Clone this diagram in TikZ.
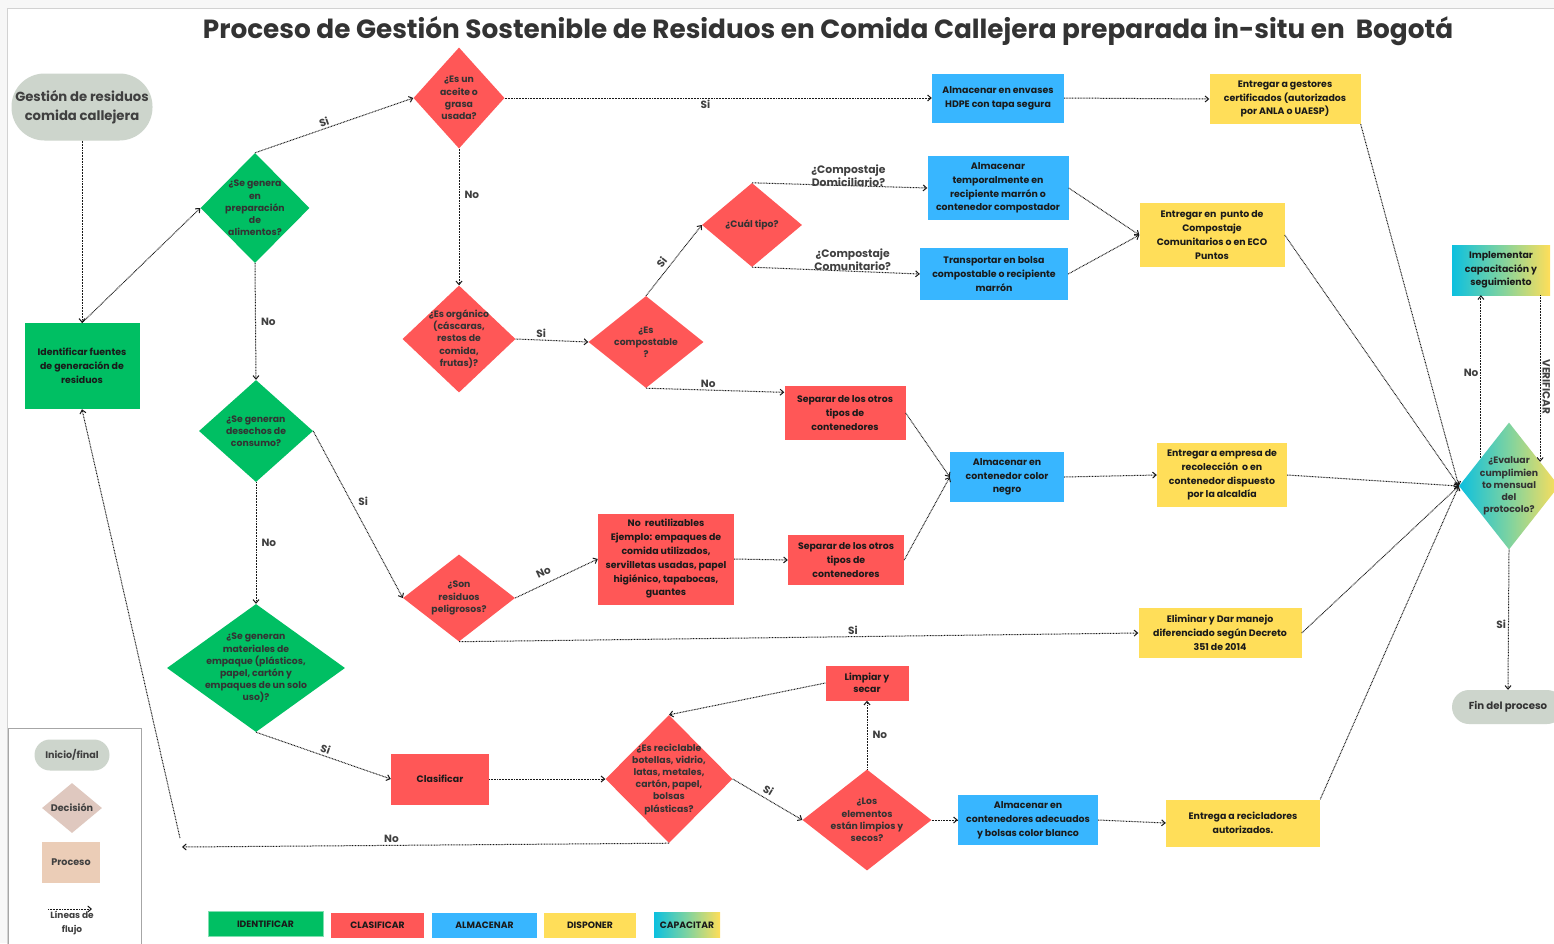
\documentclass[tikz,border=0pt]{standalone}
\usepackage{fontspec}
\setmainfont{Poppins}
\usetikzlibrary{shapes.geometric,arrows.meta,calc}
\definecolor{cstart}{HTML}{CDD5CC}
\definecolor{cgreen}{HTML}{00BF63}
\definecolor{cred}{HTML}{FF5757}
\definecolor{cblue}{HTML}{38B6FF}
\definecolor{cyellow}{HTML}{FFDE59}
\definecolor{ccyan}{HTML}{0CC0DF}
\definecolor{cmid}{HTML}{7ED3A0}
\definecolor{cldec}{HTML}{DFC8BF}
\definecolor{clproc}{HTML}{EBCDB7}
\definecolor{tdark}{HTML}{1A1A1A}
\definecolor{tgray}{HTML}{333333}
\definecolor{tlab}{HTML}{404040}
\begin{document}
\begin{tikzpicture}[x=1pt,y=-1pt,
  flow/.style={draw=black!90, line width=1pt, dash pattern=on 0.8pt off 0.75pt, -{Straight Barb[length=3.5pt,width=6pt]}},
  lab/.style={font=\bfseries\fontsize{10.5}{12}\selectfont, text=tlab, inner sep=2pt},
  clab/.style={font=\bfseries\fontsize{10.8}{13}\selectfont, text=tlab, align=center, inner sep=0},
  box/.style={rectangle, inner sep=0, align=center, font=\bfseries\fontsize{9.4}{13.8}\selectfont, text=tdark},
  dtext/.style={align=center, font=\bfseries\fontsize{9.3}{12.2}\selectfont, text=tgray, inner sep=0},
  dia/.style={diamond, inner sep=0},
  gbox/.style={box, fill=cgreen},
  rbox/.style={box, fill=cred},
  bbox/.style={box, fill=cblue},
  ybox/.style={box, fill=cyellow},
  grad/.style={left color=ccyan, right color=cyellow, middle color=cmid},
  legc/.style={box, minimum height=25, font=\bfseries\fontsize{9.2}{10}\selectfont},
  legt/.style={font=\bfseries\fontsize{9.6}{11}\selectfont, text=tlab}
]
\useasboundingbox (0,0) rectangle (1554,943);
\fill[gray!6] (0,0) rectangle (1554,943);
\fill[white, draw=gray!35, line width=0.8pt] (7,8) rectangle (1570,960);

% title
\node[font=\bfseries\fontsize{26.3}{30}\selectfont, text=tgray] (title) at (828,31)
  {Proceso de Gestión Sostenible de Residuos en Comida Callejera preparada in-situ en~ Bogotá};

% start / identify
\node[rectangle, rounded corners=33, fill=cstart, minimum width=141, minimum height=67, align=center,
  font=\bfseries\fontsize{13.2}{19.5}\selectfont, text=tlab, inner sep=0] (start) at (82,107)
  {Gestión de residuos\\comida callejera};
\node[gbox, minimum width=115, minimum height=86] (ident) at (82,366)
  {Identificar fuentes\\de generación de\\residuos};

% green diamonds
\node[dia, fill=cgreen, minimum width=109, minimum height=110,
  label={[dtext]center:{¿Se genera\\en\\preparación\\de\\alimentos?}}] (d1) at (255,208) {};
\node[dia, fill=cgreen, minimum width=114, minimum height=102,
  label={[dtext]center:{¿Se generan\\desechos de\\consumo?}}] (d2) at (256,431) {};
\node[dia, fill=cgreen, minimum width=178, minimum height=128,
  label={[dtext]center:{¿Se generan\\materiales de\\empaque (plásticos,\\papel, cartón y\\empaques de un solo\\uso)?}}] (d3) at (256,668) {};

% red diamonds
\node[dia, fill=cred, minimum width=91, minimum height=101,
  label={[dtext]center:{¿Es un\\aceite o\\grasa\\usada?}}] (r1) at (459,98) {};
\node[dia, fill=cred, minimum width=113, minimum height=107,
  label={[dtext]center:{¿Es orgánico\\(cáscaras,\\restos de\\comida,\\frutas)?}}] (r2) at (459,339) {};
\node[dia, fill=cred, minimum width=115, minimum height=92,
  label={[dtext]center:{¿Es\\compostable\\?}}] (r3) at (646,342) {};
\node[dia, fill=cred, minimum width=100, minimum height=84,
  label={[dtext]center:{¿Cuál tipo?}}] (r4) at (752,225) {};
\node[dia, fill=cred, minimum width=112, minimum height=87,
  label={[dtext]center:{¿Son\\residuos\\peligrosos?}}] (r5) at (459,598) {};
\node[dia, fill=cred, minimum width=127, minimum height=128,
  label={[dtext]center:{¿Es reciclable\\botellas, vidrio,\\latas, metales,\\cartón, papel,\\bolsas\\plásticas?}}] (rec) at (669,779) {};
\node[dia, fill=cred, minimum width=129, minimum height=101,
  label={[dtext]center:{¿Los\\elementos\\están limpios y\\secos?}}] (limp) at (867,820) {};

% red boxes
\node[rbox, minimum width=136, minimum height=91] (noreu) at (666,559)
  {No~ reutilizables\\Ejemplo: empaques de\\comida utilizados,\\servilletas usadas, papel\\higiénico, tapabocas,\\guantes};
\node[rbox, minimum width=121, minimum height=54] (sep1) at (845,413) {Separar de los otros\\tipos de\\contenedores};
\node[rbox, minimum width=116, minimum height=50] (sep2) at (846,560) {Separar de los otros\\tipos de\\contenedores};
\node[rbox, minimum width=98, minimum height=51] (clas) at (440,779) {Clasificar};
\node[rbox, minimum width=83, minimum height=35, font=\bfseries\fontsize{9.4}{12}\selectfont] (limpiar) at (867,683) {Limpiar y\\secar};

% blue boxes
\node[bbox, minimum width=132, minimum height=49] (hdpe) at (998,98) {Almacenar en envases\\HDPE con tapa segura};
\node[bbox, minimum width=141, minimum height=64] (almt) at (998,188) {Almacenar\\temporalmente en\\recipiente marrón o\\contenedor compostador};
\node[bbox, minimum width=148, minimum height=52] (trans) at (994,274) {Transportar en bolsa\\compostable o recipiente\\marrón};
\node[bbox, minimum width=114, minimum height=50] (negro) at (1007,477) {Almacenar en\\contenedor color\\negro};
\node[bbox, minimum width=140, minimum height=50] (blanco) at (1028,820) {Almacenar en\\contenedores adecuados\\y bolsas color blanco};

% yellow boxes
\node[ybox, minimum width=151, minimum height=50] (gest) at (1285,99) {Entregar a gestores\\certificados (autorizados\\por ANLA o UAESP)};
\node[ybox, minimum width=145, minimum height=64] (punto) at (1212,235) {Entregar en~ punto de\\Compostaje\\Comunitarios o en ECO\\Puntos};
\node[ybox, minimum width=130, minimum height=64] (empresa) at (1222,475) {Entregar a empresa de\\recolección~ o en\\contenedor dispuesto\\por la alcaldía};
\node[ybox, minimum width=163, minimum height=50] (elim) at (1220,633) {Eliminar y Dar manejo\\diferenciado según Decreto\\351 de 2014};
\node[ybox, minimum width=154, minimum height=47] (recic) at (1243,823) {Entrega a recicladores\\autorizados.};

% capacitar / evaluate / end
\node[box, grad, minimum width=98, minimum height=50] (impl) at (1501,270) {Implementar\\capacitación y\\seguimiento};
\node[dia, grad, minimum width=100, minimum height=127,
  label={[dtext]center:{¿Evaluar\\cumplimien\\to mensual\\del\\protocolo?}}] (ev) at (1509,486) {};
\node[rectangle, rounded corners=17, fill=cstart, minimum width=112, minimum height=34, inner sep=0,
  font=\bfseries\fontsize{10.2}{12}\selectfont, text=tgray] (fin) at (1508,707) {Fin del proceso};

\coordinate (e1) at ($(ev.west)!0.44!(ev.north)$);
\coordinate (e2) at ($(ev.north)!0.62!(ev.east)$);
\coordinate (c1) at (182,847);
\coordinate (c2) at (180,838);

% connectors
\draw[flow] (start.south) -- (ident.north);
\draw[flow] (ident.north) -- (d1.west);
\draw[flow] (d1.north) -- node[lab, above, sloped, pos=.45]{Si} (r1.west);
\draw[flow] (d1.south) -- node[lab, right, xshift=3]{No} (d2.north);
\draw[flow] (d2.south) -- node[lab, right, xshift=3]{No} (d3.north);
\draw[flow] (d2.east) -- node[lab, right, pos=.42, xshift=5]{Si} (r5.west);
\draw[flow] (d3.south) -- node[lab, above, sloped]{Si} (clas.west);
\draw[flow] (r1.east) -- node[lab, below, pos=.47]{Si} (hdpe.west);
\draw[flow] (hdpe.east) -- (gest.west);
\draw[flow] (r1.south) -- node[lab, right, pos=.34, xshift=3]{No} (r2.north);
\draw[flow] (r2.east) -- node[lab, above, pos=.35]{Si} (r3.west);
\draw[flow] (r3.north) -- node[lab, above=2pt, sloped, pos=.4]{Si} (r4.west);
\draw[flow] (r4.north) -- node[clab, pos=.55, yshift=10]{¿Compostaje\\Domiciliario?} (almt.west);
\draw[flow] (r4.south) -- node[clab, pos=.6, yshift=12]{¿Compostaje\\Comunitario?} (trans.west);
\draw[flow] (almt.east) -- (punto.west);
\draw[flow] (trans.east) -- (punto.west);
\draw[flow] (r3.south) -- node[lab, above, pos=.45]{No} ($(sep1.north west)!0.12!(sep1.south west)$);
\draw[flow] (r5.east) -- node[lab, above=5pt, sloped, pos=.4]{No} (noreu.west);
\draw[flow] (noreu.east) -- (sep2.west);
\draw[flow] (sep1.east) -- (negro.west);
\draw[flow] (sep2.east) -- (negro.west);
\draw[flow] (negro.east) -- (empresa.west);
\draw[flow] (r5.south) -- node[lab, above, pos=.58]{Si} (elim.west);
\draw[flow] (clas.east) -- (rec.west);
\draw[flow] (rec.east) -- node[lab, above=2pt, sloped, pos=.45]{Si} (limp.west);
\draw[flow] (rec.south) -- node[lab, above, pos=.57]{No} (c1);
\draw[flow] (c2) -- (ident.south);
\draw[flow] (limp.north) -- node[lab, right, xshift=3]{No} (limpiar.south);
\draw[flow] (limpiar.west) -- (rec.north);
\draw[flow] (limp.east) -- (blanco.west);
\draw[flow] (blanco.east) -- (recic.west);
\draw[flow] (gest.south east) -- (ev.west);
\draw[flow] (punto.east) -- (ev.west);
\draw[flow] (empresa.east) -- (ev.west);
\draw[flow] (elim.east) -- (ev.west);
\draw[flow] (recic.north east) -- (ev.west);
\draw[flow] (e1) -- node[lab, left, pos=.52]{No} (e1 |- impl.south);
\draw[flow] (e2 |- impl.south) -- node[lab, rotate=-90, anchor=south, pos=.55]{VERIFICAR} (e2);
\draw[flow] (ev.south) -- node[lab, left, pos=.53]{Si} (fin.north);

% legend
\draw[gray!70, line width=0.8pt] (8,728) rectangle (141,960);
\node[rectangle, rounded corners=15.5, fill=cstart, minimum width=75, minimum height=31, inner sep=0, legt] (lstart) at (72,755) {Inicio/final};
\node[dia, fill=cldec, minimum width=60, minimum height=50,
  label={[legt, inner sep=0]center:{Decisión}}] (ldec) at (72,808) {};
\node[rectangle, inner sep=0, fill=clproc, minimum width=58, minimum height=41, legt] (lproc) at (71,862) {Proceso};
\coordinate (la1) at (48,909);
\coordinate (la2) at (92,909);
\draw[flow] (la1) -- (la2);
\node[align=center, font=\bfseries\fontsize{9}{14}\selectfont, text=tlab, inner sep=0] (ltext) at (72,923) {Líneas de\\flujo};

\node[legc, fill=cgreen, draw=cgreen!50, minimum width=115] (lg1) at (265.5,924) {IDENTIFICAR};
\node[legc, fill=cred, minimum width=93] (lg2) at (377.5,925) {CLASIFICAR};
\node[legc, fill=cblue, minimum width=105] (lg3) at (484.5,925) {ALMACENAR};
\node[legc, fill=cyellow, minimum width=92] (lg4) at (590,925) {DISPONER};
\node[legc, grad, minimum width=66] (lg5) at (687,925) {CAPACITAR};
\end{tikzpicture}
\end{document}
